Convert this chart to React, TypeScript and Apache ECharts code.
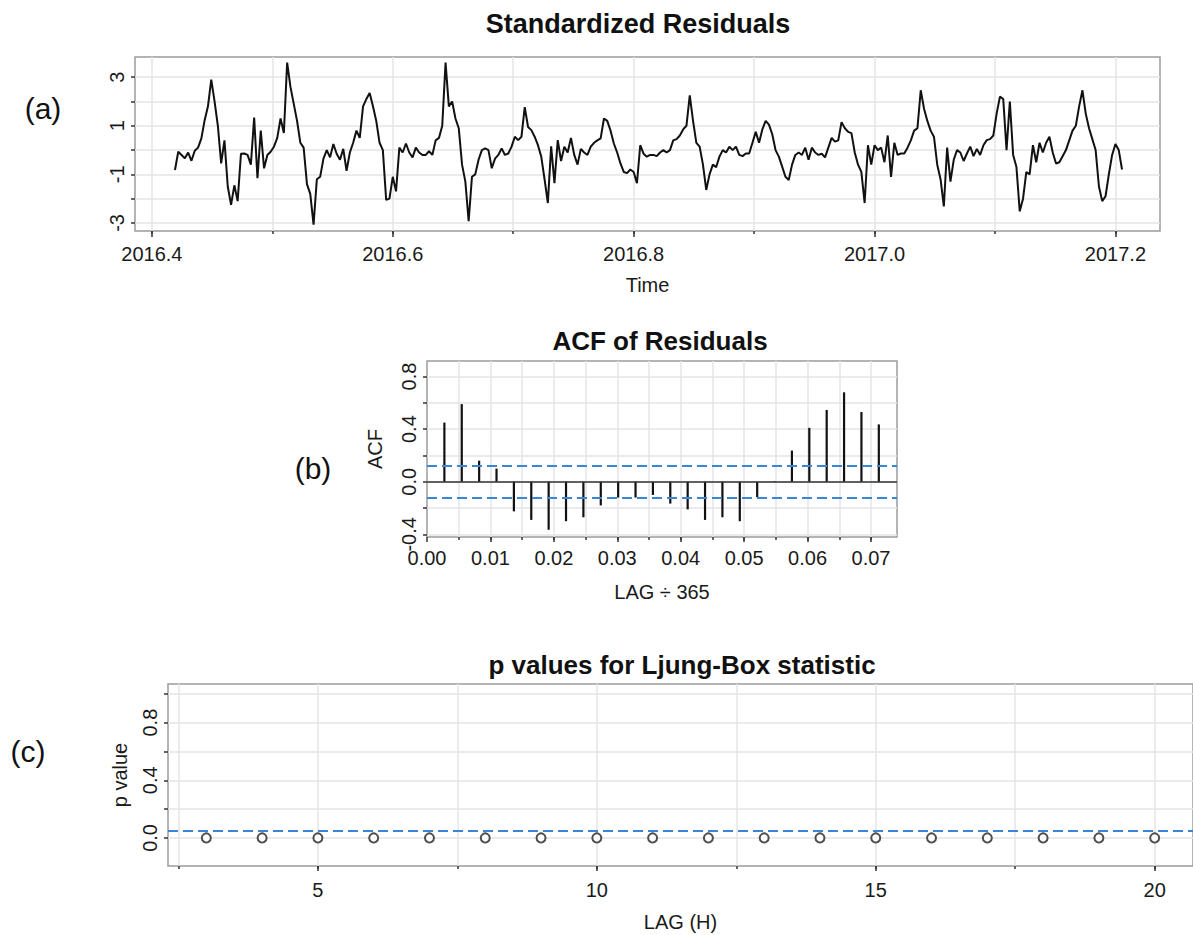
import React, { useEffect, useRef } from "react";
import * as echarts from "echarts";

// ---------- data ----------
// standardized residuals: daily series (frequency 365) starting at day 153 of 2016
const residStartYear = 2016;
const residStartDay = 153;
const residFreq = 365;
const residuals = [
  -0.82, -0.07, -0.2, -0.34, -0.1, -0.44, -0.03, 0.1, 0.48, 1.23,
  1.8, 2.9, 2.0, 1.0, -0.55, 0.4, -1.5, -2.25, -1.45, -2.1,
  -0.15, -0.14, -0.2, -0.6, 1.34, -1.16, 0.8, -0.75, -0.2, -0.07,
  0.14, 0.5, 1.3, 0.7, 3.6, 2.6, 1.9, 1.2, 0.3, 0.1,
  -1.4, -1.8, -3.07, -1.2, -1.1, -0.35, 0.0, -0.3, 0.25, -0.15,
  -0.4, 0.05, -0.85, -0.1, 0.3, 0.8, 0.5, 1.8, 2.1, 2.35,
  1.8, 1.2, 0.3, 0.0, -2.05, -2.0, -1.1, -1.7, 0.1, -0.1,
  0.27, -0.1, -0.3, 0.1, -0.1, -0.2, -0.2, -0.05, -0.2, 0.4,
  0.5, 1.0, 3.6, 1.8, 2.0, 1.3, 0.9, -0.6, -1.3, -2.93,
  -1.1, -1.0, -0.4, 0.0, 0.07, 0.0, -0.75, -0.35, -0.2, 0.07,
  -0.2, -0.14, 0.14, 0.55, 0.41, 0.55, 1.77, 0.95, 0.82, 0.55,
  0.2, -0.27, -1.2, -2.18, 0.15, -1.36, 0.41, -0.45, 0.14, -0.1,
  0.5, -0.2, -0.6, 0.05, -0.1, -0.2, 0.14, 0.3, 0.4, 0.48,
  1.3, 1.2, 0.8, 0.27, -0.1, -0.55, -0.9, -0.95, -0.8, -0.9,
  -1.36, 0.2, -0.15, -0.27, -0.2, -0.2, -0.25, -0.1, 0.0, -0.1,
  0.0, 0.4, 0.45, 0.6, 0.85, 1.0, 2.25, 1.2, 0.3, 0.14,
  -0.6, -1.64, -1.0, -0.6, -0.7, -0.27, 0.0, -0.1, 0.14, 0.0,
  0.14, -0.2, -0.25, -0.14, -0.14, 0.3, 0.75, 0.3, 0.85, 1.2,
  1.05, 0.65, 0.0, -0.27, -0.68, -1.1, -1.23, -0.6, -0.2, -0.1,
  -0.2, 0.1, -0.4, 0.1, -0.1, -0.2, -0.15, -0.3, 0.1, 0.5,
  0.35, 0.4, 1.15, 0.9, 0.75, 0.7, -0.1, -0.6, -0.9, -2.18,
  0.2, -0.6, 0.2, 0.0, 0.1, -0.5, 0.6, -1.1, 0.3, -0.2,
  -0.14, -0.14, 0.1, 0.4, 0.8, 0.9, 2.46, 1.7, 1.2, 0.8,
  0.55, -0.6, -1.2, -2.32, 0.1, -1.3, -0.4, 0.0, -0.1, -0.45,
  -0.14, 0.14, -0.25, 0.05, -0.2, 0.2, 0.41, 0.45, 0.6, 1.5,
  2.2, 2.1, 0.0, 2.0, -0.2, -0.7, -2.52, -2.0, -0.9, -1.0,
  0.2, -0.5, 0.3, -0.1, 0.3, 0.55, -0.1, -0.55, -0.5, -0.25,
  0.0, 0.4, 0.8, 1.0, 1.8, 2.46, 1.5, 0.9, 0.45, 0.0,
  -1.5, -2.1, -1.9, -1.0, -0.2, 0.25, 0.0, -0.8,
];

// ACF of residuals
const acfLags = [1, 2, 3, 4, 5, 6, 7, 8, 9, 10, 11, 12, 13, 14, 15, 16, 17, 18, 19, 20, 21, 22, 23, 24, 25, 26];
const acfValues = [
  0.45, 0.59, 0.16, 0.1, -0.225, -0.29, -0.365, -0.3, -0.27, -0.18,
  -0.12, -0.12, -0.1, -0.166, -0.21, -0.29, -0.27, -0.3, -0.117, 0.005,
  0.237, 0.41, 0.546, 0.68, 0.53, 0.436,
];
const acfBound = 0.1224;

// Ljung-Box p values
const lbLags = [3, 4, 5, 6, 7, 8, 9, 10, 11, 12, 13, 14, 15, 16, 17, 18, 19, 20];
const lbPValues = [0, 0, 0, 0, 0, 0, 0, 0, 0, 0, 0, 0, 0, 0, 0, 0, 0, 0];
const lbLevel = 0.05;

// ticks and tick labels
const tsTicks = [2016.4, 2016.5, 2016.6, 2016.7, 2016.8, 2016.9, 2017.0, 2017.1, 2017.2];
const tsLabels = [2016.4, 2016.6, 2016.8, 2017.0, 2017.2];
const residYTicks = [-3, -2, -1, 0, 1, 2, 3];
const residYLabels = [-3, -1, 1, 3];
const acfXTicks = [0.005, 0.01, 0.015, 0.02, 0.025, 0.03, 0.035, 0.04, 0.045, 0.05, 0.055, 0.06, 0.065, 0.07];
const acfXLabels = [0, 0.01, 0.02, 0.03, 0.04, 0.05, 0.06, 0.07];
const acfYTicks = [-0.4, -0.2, 0, 0.2, 0.4, 0.6, 0.8];
const acfYLabels = [-0.4, 0, 0.4, 0.8];
const lbXTicks = [2.5, 5, 7.5, 10, 12.5, 15, 17.5, 20];
const lbXLabels = [5, 10, 15, 20];
const lbYTicks = [0, 0.2, 0.4, 0.6, 0.8, 1.0];
const lbYLabels = [0, 0.4, 0.8];

// ---------- styling ----------
const FONT = "'Liberation Sans', Arial, sans-serif";
const TXT = "#1a1a1a";
const labelText = { fontFamily: FONT, fontSize: 20, color: TXT };
const tickLine = { color: "#333", width: 1.5 };
const gridLine = { color: "#e4e4e4", width: 1.5 };
const dashLine = { color: "#3a85d8", width: 2, type: [10, 5] as any };

function gridXAxis(gridIndex: number, min: number, max: number, ticks: number[]) {
  return {
    type: "value", gridIndex, min, max, position: "bottom",
    axisLine: { show: false, onZero: false },
    axisTick: { show: true, customValues: ticks, length: 3, lineStyle: tickLine },
    axisLabel: { show: false },
    splitLine: { show: true, lineStyle: gridLine },
  };
}

function majorXAxis(
  gridIndex: number, min: number, max: number, labels: number[], digits: number,
  margin: number, name: string, nameGap: number, tickLen: number
) {
  return {
    type: "value", gridIndex, min, max, position: "bottom",
    axisLine: { show: false, onZero: false },
    axisTick: { show: true, customValues: labels, length: tickLen, lineStyle: tickLine },
    axisLabel: {
      show: true, customValues: labels, margin,
      formatter: (v: number) => (digits === 0 ? String(Math.round(v)) : v.toFixed(digits)),
      ...labelText,
    },
    splitLine: { show: false },
    name, nameLocation: "middle", nameGap, nameTextStyle: labelText,
  };
}

function yAxisDef(
  gridIndex: number, min: number, max: number, ticks: number[], labels: number[],
  digits: number, margin: number, name: string, nameGap: number
) {
  return {
    type: "value", gridIndex, min, max, position: "left",
    axisLine: { show: false, onZero: false },
    axisTick: { show: true, customValues: ticks, length: 4, lineStyle: tickLine },
    axisLabel: {
      show: true, customValues: labels, rotate: 90, margin,
      formatter: (v: number) => v.toFixed(digits),
      ...labelText,
    },
    splitLine: { show: true, lineStyle: gridLine },
    name, nameLocation: "middle", nameGap, nameTextStyle: labelText,
  };
}

export default function App() {
  const ref = useRef<HTMLDivElement>(null);

  useEffect(() => {
    if (!ref.current) return;
    const chart = echarts.init(ref.current, null, { renderer: "svg" });

    const residData = residuals.map((v, i) => [
      residStartYear + (residStartDay + i) / residFreq,
      v,
    ]);
    const acfData = acfLags.map((k, i) => [k / residFreq, acfValues[i]]);
    const lbData = lbLags.map((k, i) => [k, lbPValues[i]]);

    const gridBox = { show: true, borderColor: "#9c9c9c", borderWidth: 1.5, backgroundColor: "transparent" };

    chart.setOption({
      animation: false,
      backgroundColor: "#ffffff",
      grid: [
        { ...gridBox, left: 135, top: 57, width: 1025, height: 174 },
        { ...gridBox, left: 427, top: 361, width: 470, height: 176 },
        { ...gridBox, left: 168, top: 684, width: 1027, height: 182 },
      ],
      xAxis: [
        gridXAxis(0, 2016.386, 2017.237, tsTicks),
        majorXAxis(0, 2016.386, 2017.237, tsLabels, 1, 13, "Time", 44, 6),
        gridXAxis(1, 0, 0.0741, acfXTicks),
        majorXAxis(1, 0, 0.0741, acfXLabels, 2, 11, "LAG \u00F7 365", 45, 5),
        gridXAxis(2, 2.313, 20.687, lbXTicks),
        majorXAxis(2, 2.313, 20.687, lbXLabels, 0, 14, "LAG (H)", 46, 5),
      ],
      yAxis: [
        yAxisDef(0, -3.33, 3.83, residYTicks, residYLabels, 0, 8, "", 0),
        yAxisDef(1, -0.42, 0.918, acfYTicks, acfYLabels, 1, 8, "ACF", 42),
        yAxisDef(2, -0.195, 1.068, lbYTicks, lbYLabels, 1, 8, "p value", 38),
      ],
      series: [
        {
          type: "line",
          xAxisIndex: 1,
          yAxisIndex: 0,
          data: residData,
          showSymbol: false,
          symbol: "none",
          lineStyle: { color: "#111", width: 2 },
          z: 3,
        },
        {
          type: "bar",
          xAxisIndex: 3,
          yAxisIndex: 1,
          data: acfData,
          barWidth: 2.2,
          itemStyle: { color: "#111" },
          z: 3,
          markLine: {
            silent: true,
            symbol: ["none", "none"],
            label: { show: false },
            data: [
              { yAxis: 0, lineStyle: { color: "#333", width: 1.5, type: "solid" } },
              { yAxis: acfBound, lineStyle: dashLine },
              { yAxis: -acfBound, lineStyle: dashLine },
            ],
          },
        },
        {
          type: "scatter",
          xAxisIndex: 5,
          yAxisIndex: 2,
          data: lbData,
          symbol: "emptyCircle",
          symbolSize: 9,
          itemStyle: { color: "#222", borderWidth: 2 },
          z: 4,
          markLine: {
            silent: true,
            symbol: ["none", "none"],
            label: { show: false },
            data: [{ yAxis: lbLevel, lineStyle: dashLine }],
          },
        },
      ],
      graphic: [
        {
          type: "text", x: 638, y: 24,
          style: { text: "Standardized Residuals", font: `bold 27px ${FONT}`, fill: "#111", align: "center", verticalAlign: "middle" },
        },
        {
          type: "text", x: 660, y: 341,
          style: { text: "ACF of Residuals", font: `bold 26px ${FONT}`, fill: "#111", align: "center", verticalAlign: "middle" },
        },
        {
          type: "text", x: 682, y: 665,
          style: { text: "p values for Ljung-Box statistic", font: `bold 26px ${FONT}`, fill: "#111", align: "center", verticalAlign: "middle" },
        },
        {
          type: "text", x: 43, y: 108,
          style: { text: "(a)", font: `30px ${FONT}`, fill: "#111", align: "center", verticalAlign: "middle" },
        },
        {
          type: "text", x: 313, y: 468,
          style: { text: "(b)", font: `30px ${FONT}`, fill: "#111", align: "center", verticalAlign: "middle" },
        },
        {
          type: "text", x: 28, y: 751,
          style: { text: "(c)", font: `30px ${FONT}`, fill: "#111", align: "center", verticalAlign: "middle" },
        },
      ],
    });

    return () => chart.dispose();
  }, []);

  return (
    <div
      ref={ref}
      style={{ position: "absolute", left: 0, top: 0, width: 1193, height: 935, background: "#fff" }}
    />
  );
}
